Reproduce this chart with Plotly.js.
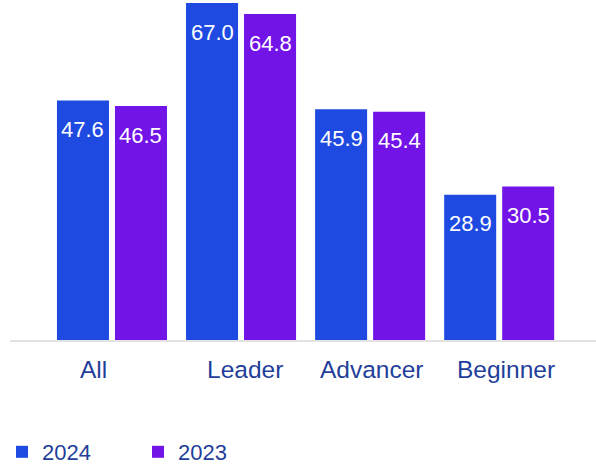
<!DOCTYPE html>
<html><head><meta charset="utf-8">
<script src="https://cdn.plot.ly/plotly-3.0.1.min.js"></script>
<style>html,body{margin:0;padding:0;background:#fff}#chart{width:596px;height:465px}</style>
</head><body><div id="chart"></div>
<script>
const categories = ["All", "Leader", "Advancer", "Beginner"];
const values2024 = [47.6, 67.0, 45.9, 28.9];
const values2023 = [46.5, 64.8, 45.4, 30.5];
const seriesNames = ["2024", "2023"];

const BLUE = "#1E4AE2", PURPLE = "#7214E8", LABEL = "#1f3f9a";
const FONT = "Arial, 'Liberation Sans', sans-serif";

const traces = [
  {type:"bar", name:seriesNames[0], x:categories, y:values2024, marker:{color:BLUE}, hoverinfo:"none"},
  {type:"bar", name:seriesNames[1], x:categories, y:values2023, marker:{color:PURPLE}, hoverinfo:"none"}
];

const annotations = [];
const labelShift = [-18, 4, 2, 7];
categories.forEach((c,i)=>{
  annotations.push({x:c, xref:"x", y:0, yref:"paper", yanchor:"top", yshift:-14, xshift:labelShift[i],
    text:c, showarrow:false, font:{family:FONT, size:24.5, color:LABEL}});
  [[values2024, -29],[values2023, 29]].forEach(([arr, xs])=>{
    annotations.push({x:c, xref:"x", y:arr[i], yref:"y", yanchor:"middle", xshift:xs, yshift:-29,
      text:arr[i].toFixed(1), showarrow:false, font:{family:FONT, size:22, color:"#ffffff"}});
  });
});

const layout = {
  width:596, height:465,
  margin:{l:10, r:0, t:0, b:125, autoexpand:false},
  paper_bgcolor:"#fff", plot_bgcolor:"#fff",
  barmode:"group", bargap:0.101, bargroupgap:0.1034,
  xaxis:{type:"category", range:[-0.79, 3.75], showticklabels:false, ticks:"", showgrid:false,
    zeroline:false, showline:true, linecolor:"#e3e3e3", linewidth:1.5, fixedrange:true},
  yaxis:{range:[0, 67.6], visible:false, showgrid:false, zeroline:false, fixedrange:true},
  showlegend:true,
  legend:{orientation:"h", x:-8/586, xanchor:"left", y:-112/340, yanchor:"middle", yref:"paper",
    font:{family:FONT, size:22, color:LABEL}, entrywidth:91, entrywidthmode:"pixels",
    itemclick:false, itemdoubleclick:false},
  annotations:annotations,
  font:{family:FONT}
};

Plotly.newPlot("chart", traces, layout, {staticPlot:true, displayModeBar:false});
</script></body></html>
